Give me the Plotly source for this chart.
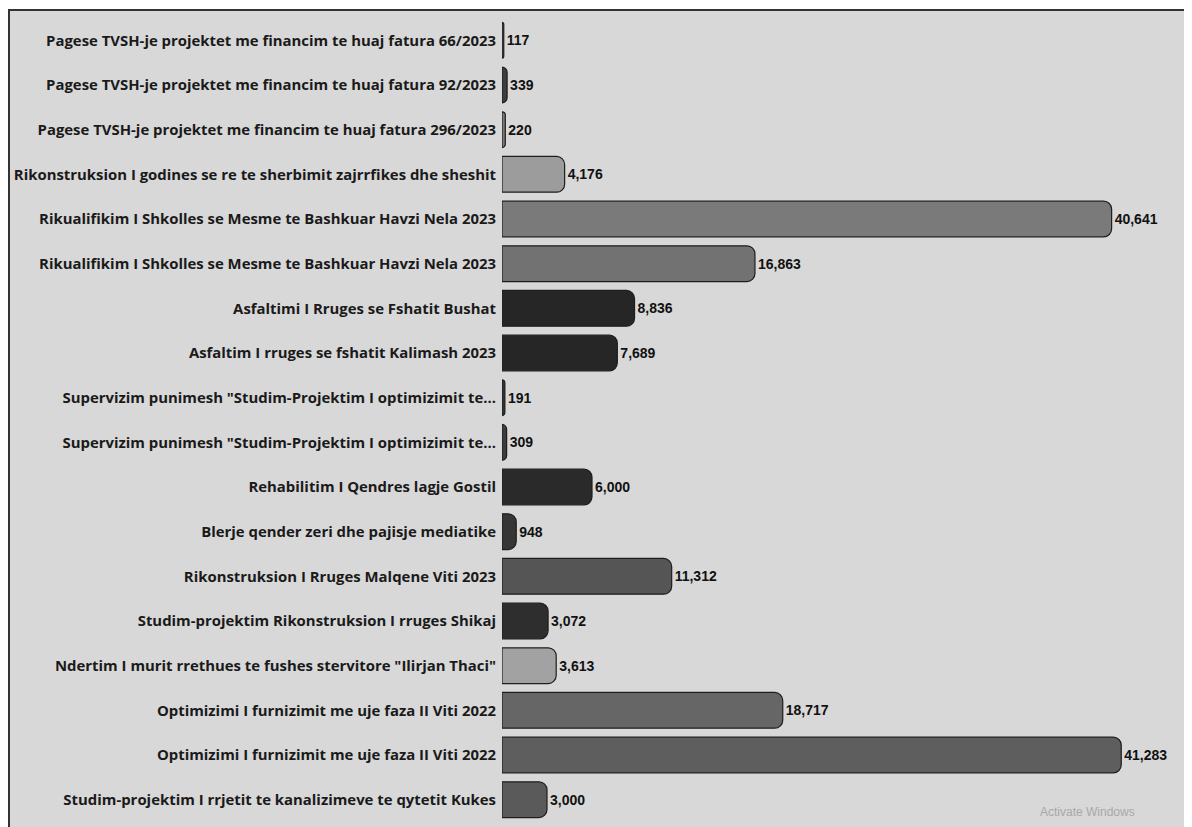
import plotly.graph_objects as go

# 项目名称（从上到下）
projects = [
    'Pagese TVSH-je projektet me financim te huaj fatura 66/2023',
    'Pagese TVSH-je projektet me financim te huaj fatura 92/2023',
    'Pagese TVSH-je projektet me financim te huaj fatura 296/2023',
    'Rikonstruksion I godines se re te sherbimit zajrrfikes dhe sheshit',
    'Rikualifikim I Shkolles se Mesme te Bashkuar Havzi Nela 2023',
    'Rikualifikim I Shkolles se Mesme te Bashkuar Havzi Nela 2023',
    'Asfaltimi I Rruges se Fshatit Bushat',
    'Asfaltim I rruges se fshatit Kalimash 2023',
    'Supervizim punimesh "Studim-Projektim I optimizimit te...',
    'Supervizim punimesh "Studim-Projektim I optimizimit te...',
    'Rehabilitim I Qendres lagje Gostil',
    'Blerje qender zeri dhe pajisje mediatike',
    'Rikonstruksion I Rruges Malqene Viti 2023',
    'Studim-projektim Rikonstruksion I rruges Shikaj',
    'Ndertim I murit rrethues te fushes stervitore "Ilirjan Thaci"',
    'Optimizimi I furnizimit me uje faza II Viti 2022',
    'Optimizimi I furnizimit me uje faza II Viti 2022',
    'Studim-projektim I rrjetit te kanalizimeve te qytetit Kukes',
]
amounts = [117, 339, 220, 4176, 40641, 16863, 8836, 7689, 191, 309,
           6000, 948, 11312, 3072, 3613, 18717, 41283, 3000]
bar_colors = ['#4a4a4a', '#3e3e3e', '#7a7a7a', '#9c9c9c', '#7a7a7a', '#727272',
              '#262626', '#262626', '#333333', '#3c3c3c', '#2a2a2a', '#363636',
              '#555555', '#2e2e2e', '#a2a2a2', '#666666', '#5e5e5e', '#5a5a5a']

rows = list(range(len(projects)))

fig = go.Figure()

# 横向柱状图
fig.add_trace(go.Bar(
    x=amounts,
    y=rows,
    orientation='h',
    marker=dict(color=bar_colors, line=dict(color='#1e1e1e', width=1.2), cornerradius=8),
    texttemplate='%{x:,}',
    textposition='outside',
    textfont=dict(family='Liberation Sans', size=14, color='#111111', weight='bold'),
    cliponaxis=False,
    hoverinfo='skip',
))

# 外框和灰色底纹
fig.add_shape(type='rect', xref='paper', yref='paper',
              x0=-0.7145, x1=1.05, y0=-0.05, y1=1.00995,
              fillcolor='#d8d8d8', line=dict(color='#333333', width=2),
              layer='below')

fig.add_annotation(text='Activate Windows', xref='paper', yref='paper',
                   x=0.849, y=0.0124, xanchor='center', yanchor='middle',
                   showarrow=False, font=dict(family='Liberation Sans', size=12, color='#a8a8a8'))

# 页面自带 8px 边距，所以整体尺寸减 8
fig.update_layout(
    width=1184, height=819,
    margin=dict(l=494, r=0, t=10, b=5),
    paper_bgcolor='white',
    plot_bgcolor='rgba(0,0,0,0)',
    bargap=0.2,
    showlegend=False,
)
fig.update_xaxes(range=[0, 46000], visible=False, showgrid=False)
fig.update_yaxes(
    tickvals=rows, ticktext=projects,
    autorange='reversed', showgrid=False, zeroline=False, showline=False,
    ticks='', ticklabelstandoff=5, automargin=False,
    tickfont=dict(family='Open Sans', size=14.9, color='#1a1a1a', weight='bold'),
)

fig.write_html('out.html')
